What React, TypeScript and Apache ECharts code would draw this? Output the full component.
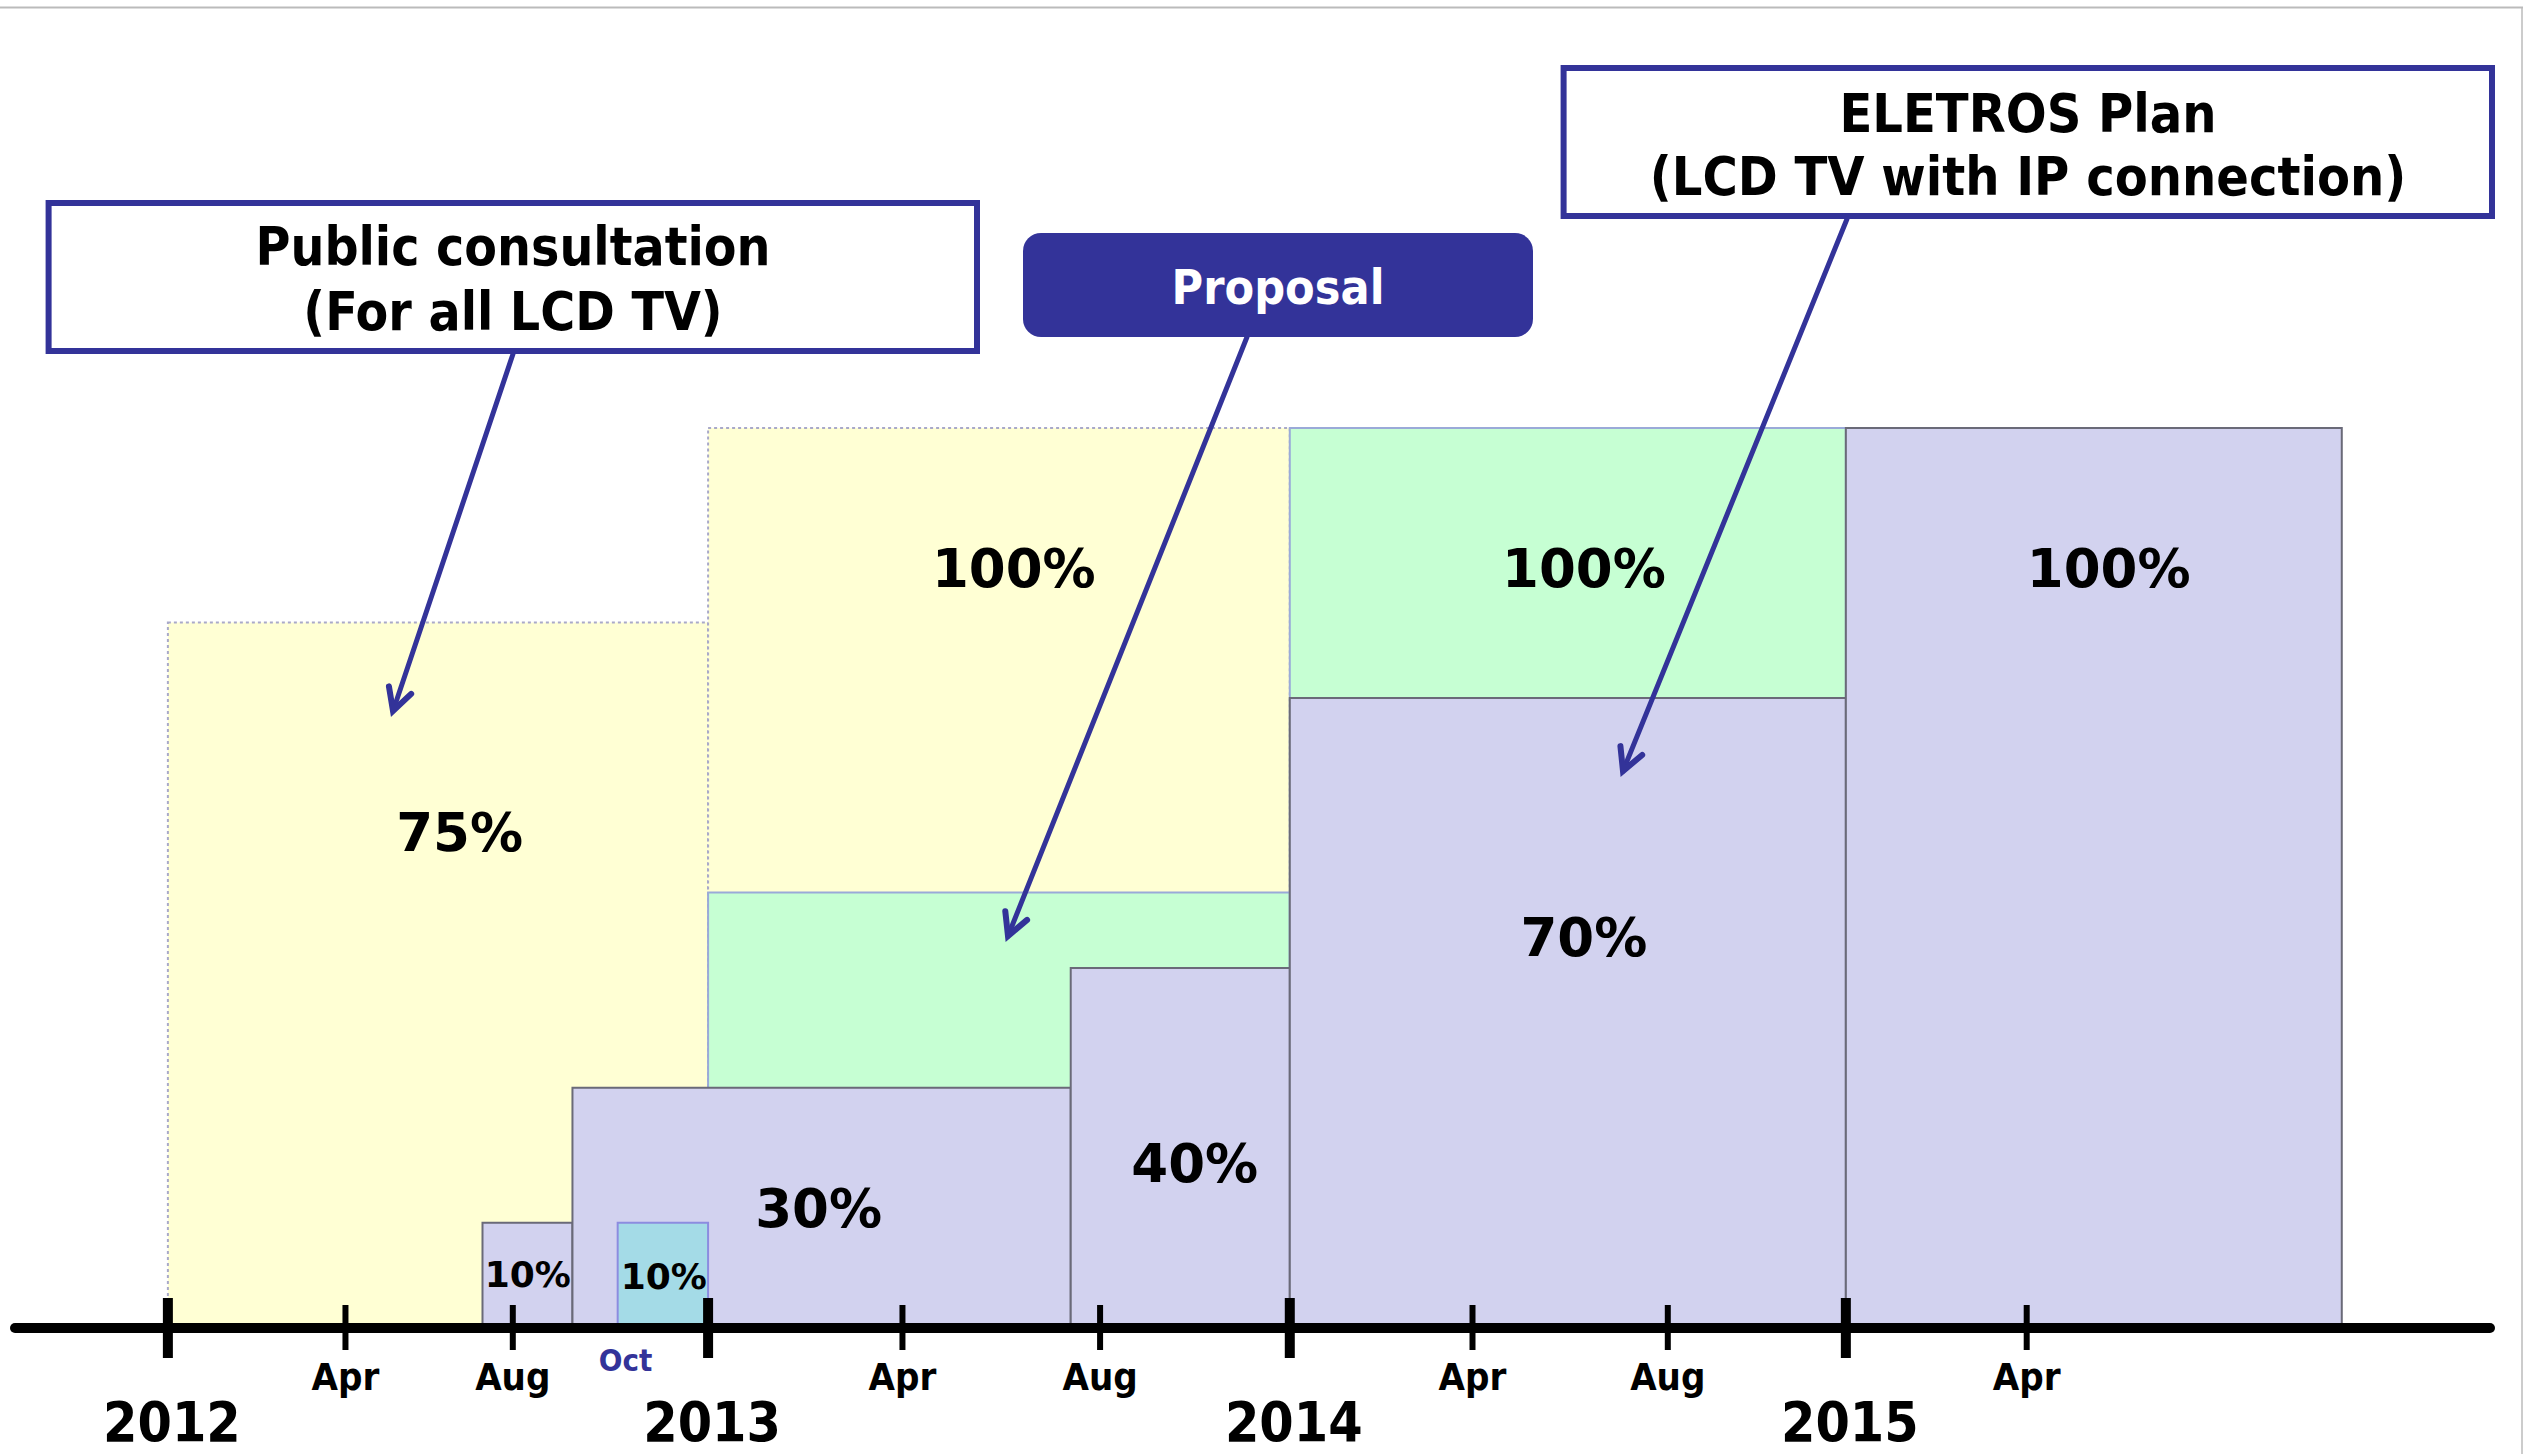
import React, { useEffect, useRef } from 'react';
import * as echarts from 'echarts';

const W = 2532;
const H = 1454;

// x unit: timeline position as drawn (roughly months from January 2012); y unit: drawn percent scale
const yearTicks = [0, 11.59, 24.07, 36];
const yearLabels = ['2012', '2013', '2014', '2015'];
const monthTicks = [3.81, 7.4, 15.76, 20.0, 27.99, 32.18, 39.88];
const monthLabels = ['Apr', 'Aug', 'Apr', 'Aug', 'Apr', 'Aug', 'Apr'];
const noteMonths = [9.82];
const noteLabels = ['Oct'];

// [from, to, level]
const consultationBoxes = [[0, 11.59, 78.4], [11.59, 24.07, 100]];
const proposalBoxes = [[11.59, 24.07, 48.4], [24.07, 36, 100]];
const octoberBoxes = [[9.65, 11.59, 11.7]];
const eletrosBoxes = [[6.75, 8.68, 11.7], [8.68, 19.37, 26.7], [19.37, 24.07, 40], [24.07, 36, 70], [36, 46.64, 100]];

const valueLabels = ['75%', '100%', '100%', '10%', '10%', '30%', '40%', '70%', '100%'];
const valueLabelAt = [[6.26, 55.1], [18.15, 84.4], [30.38, 84.4], [10.64, 5.7], [7.72, 6.0], [13.96, 13.3], [22.03, 18.3], [30.38, 43.4], [41.64, 84.4]];

const consultationTitle = ['Public consultation', '(For all LCD TV)'];
const proposalTitle = ['Proposal'];
const eletrosTitle = ['ELETROS Plan', '(LCD TV with IP connection)'];

const NAVY = '#333399';
const SANS = '"DejaVu Sans", Verdana, sans-serif';
const COND = '"DejaVu Sans Condensed", "DejaVu Sans", sans-serif';

function arrow(sx: number, sy: number, tx: number, ty: number) {
  const dx = sx - tx;
  const dy = sy - ty;
  const len = Math.hypot(dx, dy);
  const ux = dx / len;
  const uy = dy / len;
  const L = 25;
  const rot = (a: number) => [tx + L * (ux * Math.cos(a) - uy * Math.sin(a)), ty + L * (ux * Math.sin(a) + uy * Math.cos(a))];
  const a = (28 * Math.PI) / 180;
  return [
    { type: 'line', z: 100, shape: { x1: sx, y1: sy, x2: tx, y2: ty }, style: { stroke: NAVY, lineWidth: 5, lineCap: 'round' } },
    { type: 'polyline', z: 100, shape: { points: [rot(a), [tx, ty], rot(-a)] }, style: { stroke: NAVY, lineWidth: 6, lineCap: 'round', lineJoin: 'miter', fill: null } },
  ];
}

function titleTexts(lines: string[], cx: number, ys: number[], size: number, color: string) {
  return lines.map((t, i) => ({
    type: 'text',
    z: 101,
    x: cx,
    y: ys[i],
    style: {
      text: t,
      fill: color,
      fontFamily: COND,
      fontWeight: 'bold',
      fontSize: size,
      align: 'center',
      verticalAlign: 'middle',
      textAlign: 'center',
      textVerticalAlign: 'middle',
    },
  }));
}

function boxSeries(name: string, data: number[][], fill: string, stroke: string, dash: any, z: number) {
  return {
    type: 'custom',
    name,
    z,
    data,
    encode: { x: [0, 1], y: 2 },
    renderItem: (params: any, api: any) => {
      const p0 = api.coord([api.value(0), api.value(2)]);
      const p1 = api.coord([api.value(1), 0]);
      return {
        type: 'rect',
        shape: { x: p0[0], y: p0[1], width: p1[0] - p0[0], height: p1[1] - p0[1] },
        style: { fill, stroke, lineWidth: 2, lineDash: dash },
      };
    },
  };
}

function textStyle(text: string, size: number, family: string, color: string) {
  return {
    text,
    fill: color,
    fontFamily: family,
    fontWeight: 'bold',
    fontSize: size,
    align: 'center',
    verticalAlign: 'middle',
    textAlign: 'center',
    textVerticalAlign: 'middle',
  };
}

export default function App() {
  const ref = useRef<HTMLDivElement>(null);

  useEffect(() => {
    if (!ref.current) return;
    const chart = echarts.init(ref.current, null, { renderer: 'svg', width: W, height: H });

    const option: any = {
      animation: false,
      backgroundColor: '#ffffff',
      grid: { left: 15, right: 42, top: 428, bottom: 126, containLabel: false },
      xAxis: {
        type: 'value',
        min: -3.28,
        max: 49.82,
        z: 10,
        axisLine: { show: true, onZero: true, lineStyle: { color: '#000', width: 10 } },
        axisTick: { show: false },
        axisLabel: { show: false },
        splitLine: { show: false },
      },
      yAxis: { type: 'value', min: 0, max: 100, show: false },
      series: [
        boxSeries('Public consultation', consultationBoxes, '#FFFFD4', '#A9A9C9', [3, 3], 1),
        boxSeries('Proposal', proposalBoxes, '#C6FFD3', '#9AAAD8', null, 2),
        boxSeries('ELETROS Plan', eletrosBoxes, '#D2D2EF', '#6A6A78', null, 3),
        boxSeries('Oct', octoberBoxes, '#A4DBE7', '#8C8CE0', null, 4),
        {
          type: 'custom',
          name: 'values',
          z: 5,
          data: valueLabelAt,
          encode: { x: 0, y: 1 },
          renderItem: (params: any, api: any) => {
            const p = api.coord([api.value(0), api.value(1)]);
            const t = valueLabels[params.dataIndex];
            return { type: 'text', x: p[0], y: p[1], style: textStyle(t, t === '10%' ? 36 : 53, SANS, '#000') };
          },
        },
        {
          type: 'custom',
          name: 'years',
          z: 20,
          data: yearTicks.map((v) => [v, 0]),
          encode: { x: 0, y: 1 },
          renderItem: (params: any, api: any) => {
            const p = api.coord([api.value(0), 0]);
            return {
              type: 'group',
              children: [
                { type: 'line', shape: { x1: p[0], y1: p[1] - 30, x2: p[0], y2: p[1] + 30 }, style: { stroke: '#000', lineWidth: 10 } },
                { type: 'text', x: p[0] + 4, y: p[1] + 94, style: textStyle(yearLabels[params.dataIndex], 55, COND, '#000') },
              ],
            };
          },
        },
        {
          type: 'custom',
          name: 'months',
          z: 20,
          data: monthTicks.map((v) => [v, 0]),
          encode: { x: 0, y: 1 },
          renderItem: (params: any, api: any) => {
            const p = api.coord([api.value(0), 0]);
            return {
              type: 'group',
              children: [
                { type: 'line', shape: { x1: p[0], y1: p[1] - 23, x2: p[0], y2: p[1] + 22 }, style: { stroke: '#000', lineWidth: 6 } },
                { type: 'text', x: p[0], y: p[1] + 49, style: textStyle(monthLabels[params.dataIndex], 38, COND, '#000') },
              ],
            };
          },
        },
        {
          type: 'custom',
          name: 'notes',
          z: 20,
          data: noteMonths.map((v) => [v, 0]),
          encode: { x: 0, y: 1 },
          renderItem: (params: any, api: any) => {
            const p = api.coord([api.value(0), 0]);
            return { type: 'text', x: p[0], y: p[1] + 32, style: textStyle(noteLabels[params.dataIndex], 31, COND, NAVY) };
          },
        },
      ],
      graphic: {
        elements: [
          // frame
          { type: 'line', z: 100, shape: { x1: 0, y1: 7.5, x2: 2523, y2: 7.5 }, style: { stroke: '#BBBBBB', lineWidth: 2 } },
          { type: 'line', z: 100, shape: { x1: 2522, y1: 7, x2: 2522, y2: H }, style: { stroke: '#BBBBBB', lineWidth: 1.5 } },
          // arrows
          ...arrow(513, 354, 393, 711),
          ...arrow(1247, 337, 1008, 936),
          ...arrow(1847, 219, 1623, 771),
          // callout boxes
          { type: 'rect', z: 100, shape: { x: 48.6, y: 203, width: 928.4, height: 148 }, style: { fill: '#fff', stroke: NAVY, lineWidth: 6 } },
          { type: 'rect', z: 100, shape: { x: 1023, y: 233, width: 510, height: 104, r: 18 }, style: { fill: NAVY, stroke: null } },
          { type: 'rect', z: 100, shape: { x: 1563.6, y: 68, width: 928.4, height: 148 }, style: { fill: '#fff', stroke: NAVY, lineWidth: 6 } },
          ...titleTexts(consultationTitle, 513, [246, 311], 53, '#000'),
          ...titleTexts(proposalTitle, 1278, [287], 48, '#fff'),
          ...titleTexts(eletrosTitle, 2028, [113, 176], 53.5, '#000'),
        ],
      },
    };

    chart.setOption(option);
    return () => chart.dispose();
  }, []);

  return <div ref={ref} style={{ position: 'absolute', left: 0, top: 0, width: W, height: H, background: '#fff' }} />;
}
